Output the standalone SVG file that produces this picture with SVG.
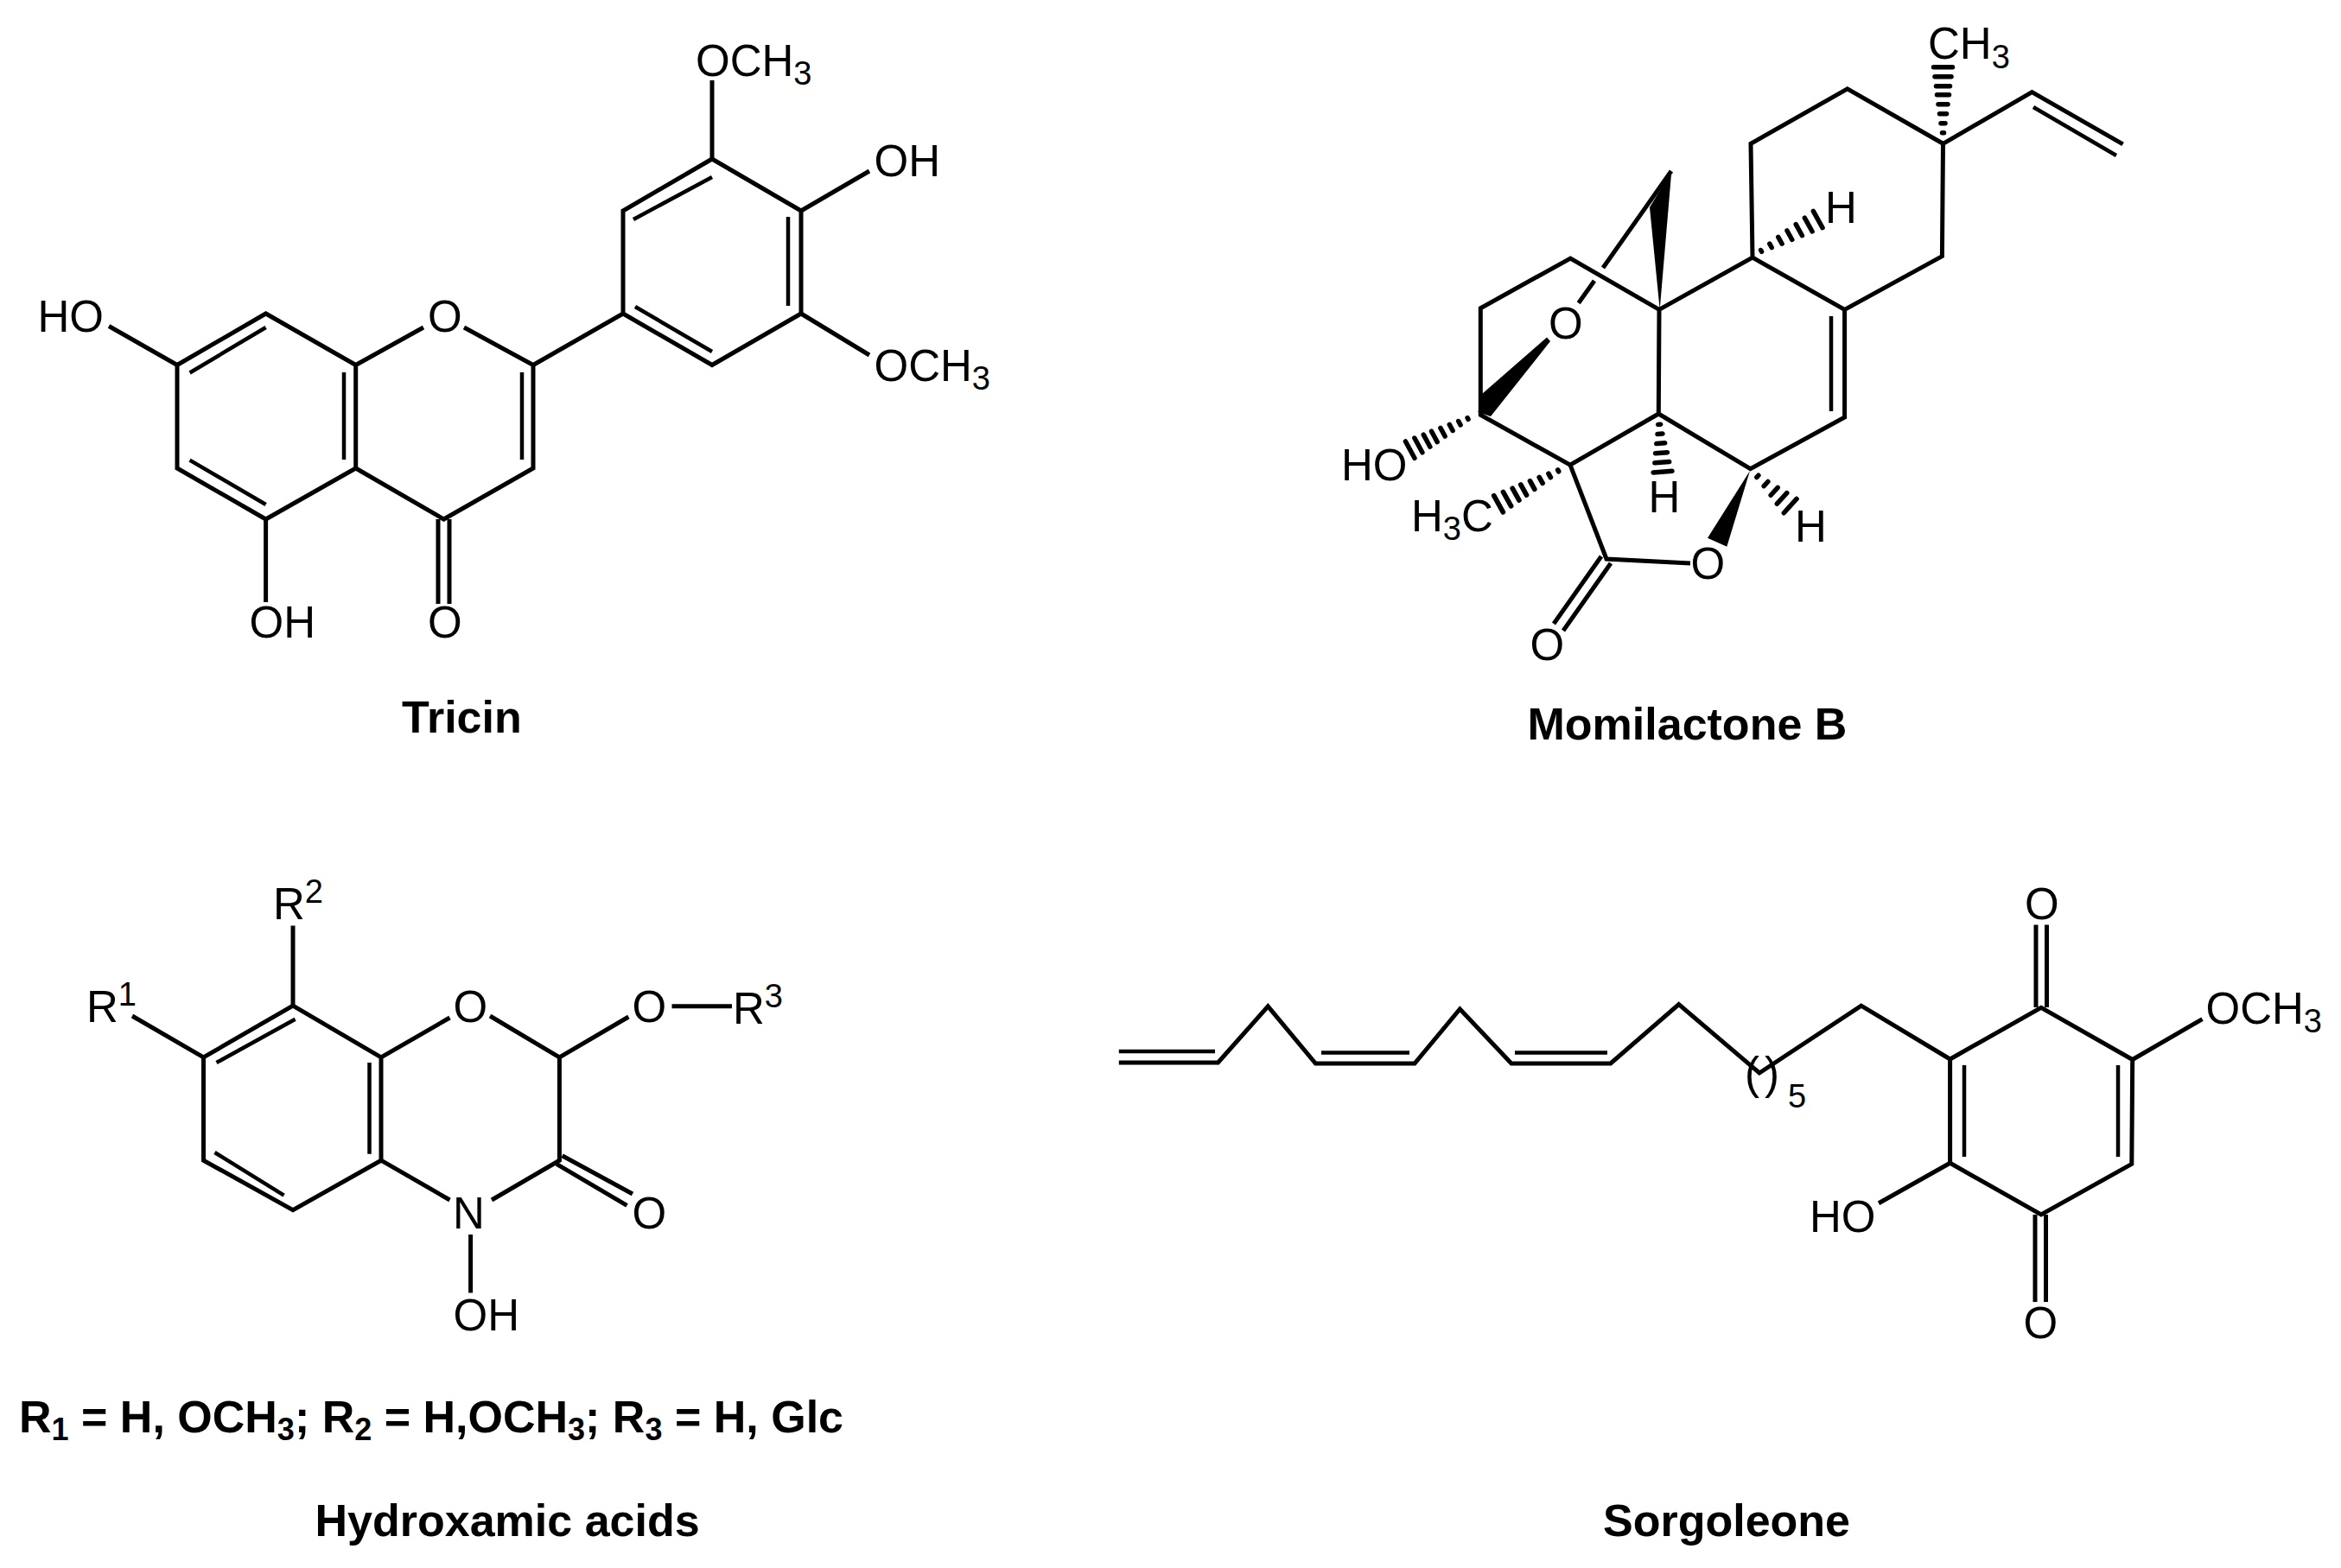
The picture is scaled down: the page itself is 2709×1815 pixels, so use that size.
<svg xmlns="http://www.w3.org/2000/svg" width="2709" height="1815" viewBox="0 0 2709 1815">
<style>
.b{fill:none;stroke:#000;stroke-width:5;stroke-linejoin:miter;stroke-linecap:butt}
.i{fill:none;stroke:#000;stroke-width:4.5}
.t{font-family:"Liberation Sans",Arial,sans-serif;font-size:51px;fill:#000}
.s{font-size:38px}
.l{font-family:"Liberation Sans",Arial,sans-serif;font-size:52px;font-weight:bold;fill:#000}
.l .s{font-size:36px}
.w{fill:#000;stroke:none}
.h{fill:none;stroke:#000;stroke-width:5.5;stroke-linecap:round}
</style>
<defs>
<path id="hash8" class="h" d="M13 -1V1M24 -2.5V2.5M35 -4V4M46 -5.5V5.5M57 -7V7M67 -8V8M78 -9.5V9.5M89 -11V11"/>
<path id="hash7" class="h" d="M13 -1V1M25.5 -2.5V2.5M38 -4.5V4.5M50.5 -6V6M63 -7.5V7.5M75.5 -9V9M88 -11V11"/>
<path id="hash6" class="h" d="M13 -1.5V1.5M24 -3V3M35 -5V5M46 -7V7M57 -8.5V8.5M68 -11V11"/>
<path id="hash5" class="h" d="M12 -1.5V1.5M25 -3.5V3.5M38 -6V6M50 -8.5V8.5M63 -11V11"/>
</defs>
<rect width="2709" height="1815" fill="#fff"/>

<g id="tricin">
<g class="bonds">
<path class="b" d="M205 422.5L307.6 363L411.7 422.5V542L307.6 601L205 542V422.5M411.7 422.5L490 379M411.7 542L513.5 601L617 542V422.5L537 379M617 422.5L721 363V244L824 184L927 244V363L824 422.5L721 363"/>
<path class="b" d="M824 184V93M927 244L1006 198M927 363L1006 411M205 422.5L126 377.5M307.6 601V697"/>
<path class="b" d="M507 601V699M520 601V699"/>
<path class="i" d="M219.6 431.5L307.6 379M398 431V532M219.6 532.6L307.6 584M604 431V532M735 355L824 407M733 254L824 205M912 251V354"/>
</g>
<g class="labels">
<text class="t" x="43.5" y="384">HO</text>
<text class="t" x="495" y="384">O</text>
<text class="t" x="288.5" y="738">OH</text>
<text class="t" x="495" y="738">O</text>
<text class="t" x="805" y="88">OCH<tspan class="s" dy="10">3</tspan></text>
<text class="t" x="1011.5" y="204">OH</text>
<text class="t" x="1011.5" y="441">OCH<tspan class="s" dy="10">3</tspan></text>
</g>
<text class="l" x="465" y="848">Tricin</text>
</g>

<g id="momilactone-b">
<g class="bonds">
<path class="b" d="M1920 358.4L2028 298L2134.6 358.4L2247.4 296.6L2248.5 166.3L2137.8 102.8L2026 166.3L2028 298M2134.6 358.4V483L2025.5 542.7L1919.3 479L1920 358.4M1919.3 479L1817 538.2L1713.3 480.3V356.7L1817.3 299L1920 358.4M1817 538.2L1859 647L1956 652"/>
<path class="b" d="M2248.5 166.3L2351.4 106.7L2456.6 166.9M1826.7 350.7L1845 325M1855 310L1934 198"/>
<path class="b" d="M1853 644L1798 722M1864 652L1809 730"/>
<path class="i" d="M2119 366V476M2353 124L2449 180"/>
<polygon class="w" points="1920.7,358.3 1934.3,198.3 1909,240"/>
<polygon class="w" points="1790,390.5 1715,456 1710.5,477 1725,482 1794,395"/>
<polygon class="w" points="2025,545 1976,622.7 1998.3,632.7"/>
<use href="#hash8" transform="translate(2248.5 166.7) rotate(-90)"/>
<use href="#hash7" transform="translate(2026.7 296.7) rotate(-29)"/>
<use href="#hash8" transform="translate(1710 478.3) rotate(151.6)"/>
<use href="#hash6" transform="translate(1919.3 478.3) rotate(86)"/>
<use href="#hash8" transform="translate(1815 538.3) rotate(151) scale(1.04 1)"/>
<use href="#hash5" transform="translate(2025 543.3) rotate(42.2)"/>
</g>
<g class="labels">
<text class="t" x="2231" y="68">CH<tspan class="s" dy="11">3</tspan></text>
<text class="t" x="2112" y="258">H</text>
<text class="t" x="1552" y="556">HO</text>
<text class="t" x="1633" y="615">H<tspan class="s" dy="10">3</tspan><tspan dy="-10">C</tspan></text>
<text class="t" x="1907.5" y="593">H</text>
<text class="t" x="2077" y="627">H</text>
<text class="t" x="1956.5" y="670">O</text>
<text class="t" x="1770.5" y="764">O</text>
<text class="t" x="1792" y="392">O</text>
</g>
<text class="l" x="1767.5" y="856">Momilactone B</text>
</g>

<g id="hydroxamic-acids">
<g class="bonds">
<path class="b" d="M235.5 1223.9L339 1164.2L441 1223.9V1343.2L339 1400.7L235.5 1343.2V1223.9M441 1223.9L520.5 1178M567 1176L647.4 1223.9V1343.2L569 1389M441 1343.2L520.5 1389"/>
<path class="b" d="M647.4 1223.9L727.4 1177M777.5 1164.8H847M235.5 1223.9L153 1176M339 1164.2V1071.6M544.6 1429V1496.5"/>
<path class="b" d="M650.6 1337.8L732 1382M644 1347.4L725.5 1395.3"/>
<path class="i" d="M250.5 1230L341.6 1179.7M427.5 1230V1335.7M248.5 1334L328.6 1383.6"/>
</g>
<g class="labels">
<text class="t" x="100" y="1183">R<tspan class="s" dy="-19">1</tspan></text>
<text class="t" x="316" y="1064">R<tspan class="s" dy="-19">2</tspan></text>
<text class="t" x="524.5" y="1183">O</text>
<text class="t" x="731.5" y="1183">O</text>
<text class="t" x="848" y="1185">R<tspan class="s" dy="-19">3</tspan></text>
<text class="t" x="524" y="1422">N</text>
<text class="t" x="731.5" y="1422">O</text>
<text class="t" x="524.5" y="1540">OH</text>
</g>
<text class="l" x="22" y="1658">R<tspan class="s" dy="9">1</tspan><tspan dy="-9"> = H, OCH</tspan><tspan class="s" dy="9">3</tspan><tspan dy="-9">; R</tspan><tspan class="s" dy="9">2</tspan><tspan dy="-9"> = H,OCH</tspan><tspan class="s" dy="9">3</tspan><tspan dy="-9">; R</tspan><tspan class="s" dy="9">3</tspan><tspan dy="-9"> = H, Glc</tspan></text>
<text class="l" x="364.5" y="1778">Hydroxamic acids</text>
</g>

<g id="sorgoleone">
<g class="bonds">
<path class="b" d="M1294.8 1230H1409.5L1467.3 1164.8L1522.4 1231H1637L1689.4 1168L1749 1231H1863.8L1942.7 1162.6L2036 1242L2153.8 1164.2L2256.6 1226L2362 1166.4L2467.7 1226.5L2466.8 1347.4L2362 1406L2256.6 1346.3V1226"/>
<path class="b" d="M2467.7 1226.5L2548.5 1179.7M2256.6 1346.3L2174 1392.7M2356 1166V1070.5M2368.5 1166V1070.5M2355 1406V1507M2367.5 1406V1507"/>
<path class="i" d="M1294.8 1217H1406M1529 1218.5H1631M1753 1218.5H1860M2273 1233V1339M2451 1233V1339"/>
</g>
<g class="labels">
<text class="t" x="2343" y="1064">O</text>
<text class="t" x="2341.5" y="1549">O</text>
<text class="t" x="2552.5" y="1185">OCH<tspan class="s" dy="10">3</tspan></text>
<text class="t" x="2094" y="1426">HO</text>
<text class="t" x="2019" y="1260">(</text>
<text class="t" x="2042" y="1260">)</text>
<text class="t s" x="2069" y="1282">5</text>
</g>
<text class="l" x="1855" y="1778">Sorgoleone</text>
</g>
</svg>
